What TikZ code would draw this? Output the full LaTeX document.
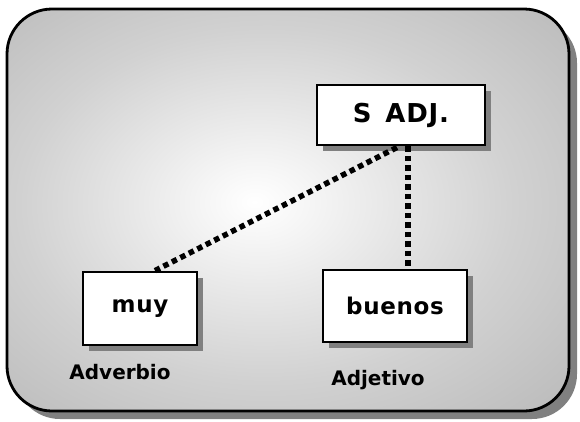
\documentclass[tikz,border=0pt]{standalone}
\usepackage{fontspec}
\setmainfont{DejaVu Sans}
\newfontfamily\boxfont[LetterSpace=3,WordSpace=1.4]{DejaVu Sans}
\pgfdeclareradialshading{panelshade}{\pgfpoint{-3bp}{1bp}}{color(0bp)=(white); color(5bp)=(white!96!black); color(22bp)=(black!18); color(40bp)=(black!29); color(60bp)=(black!36)}
\begin{document}
\begin{tikzpicture}[x=1pt,y=-1pt,
  wordbox/.style={draw=black,line width=2.8pt,fill=white,minimum width=#1,inner sep=0pt,font=\boxfont\fontsize{23}{26}\selectfont\bfseries},
  lbl/.style={font=\fontsize{20}{24}\selectfont\bfseries,inner sep=0pt},
  dotline/.style={line width=5.5pt,dash pattern=on 5.5pt off 4pt}]
\useasboundingbox (0,0) rectangle (580,421);
% outer shadow
\fill[gray][rounded corners=45pt] (15,18) rectangle (577,419);
% outer panel
\shade[shading=panelshade,rounded corners=45pt] (7,9) rectangle (569,411);
\draw[line width=2.8pt,rounded corners=45pt] (7,9) rectangle (569,411);
% box shadows
\fill[gray] (323,91) rectangle (491,151);
\fill[gray] (89,278) rectangle (203,351);
\fill[gray] (329,276) rectangle (473,348);
% boxes
\node[wordbox=168pt,minimum height=60pt,font=\boxfont\fontsize{26}{30}\selectfont\bfseries] (sadj) at (401,115) {S ADJ.};
\node[wordbox=114pt,minimum height=73pt] (muy) at (140,308.5) {muy};
\node[wordbox=144pt,minimum height=72pt] (buenos) at (395,306) {buenos};
% labels
\node[lbl] (adv) at (120,372) {Adverbio};
\node[lbl] (adj) at (378,380) {Adjetivo};
% connectors
\coordinate (j) at (408,147);
\draw[dotline] ([xshift=15pt]muy.north) -- ([xshift=-9pt]sadj.south -| j);
\draw[dotline] (sadj.south -| j) -- (buenos.north -| j);
\end{tikzpicture}
\end{document}
